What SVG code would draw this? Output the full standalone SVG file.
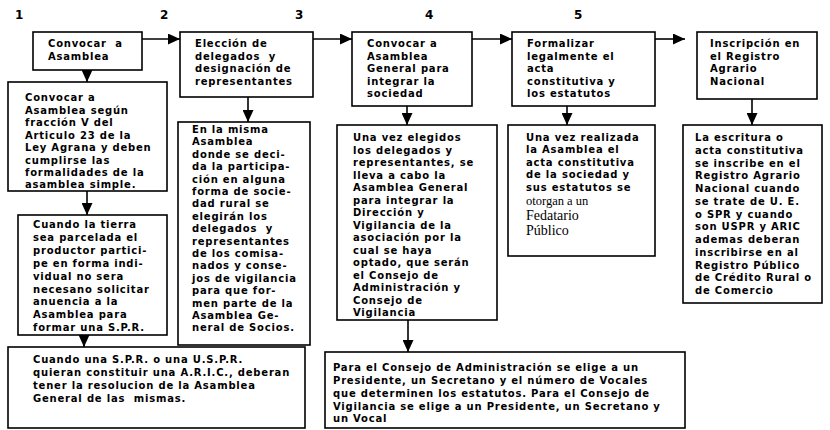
<svg xmlns="http://www.w3.org/2000/svg" width="830" height="430" viewBox="0 0 830 430">
<defs>
<marker id="ah" markerUnits="userSpaceOnUse" markerWidth="13" markerHeight="11" refX="12" refY="5.5" orient="auto">
<path d="M0,0 L12,5.5 L0,11 z" fill="#000"/>
</marker>
<style>
.box{fill:#fff;stroke:#000;stroke-width:1.6}
.t{font-family:"DejaVu Sans","Liberation Sans",sans-serif;font-weight:bold;font-size:10px;letter-spacing:0.8px;fill:#000;white-space:pre}
.s{font-family:"Liberation Serif","DejaVu Serif",serif;font-size:12.5px;fill:#000}
.sb{font-family:"Liberation Serif","DejaVu Serif",serif;font-size:14px;fill:#000}
.num{font-family:"DejaVu Sans","Liberation Sans",sans-serif;font-weight:bold;font-size:12px;fill:#000}
.c{fill:none;stroke:#000;stroke-width:1.6;marker-end:url(#ah)}
</style>
</defs>
<rect width="830" height="430" fill="#fff"/>
<g id="numbers">
<text class="num" x="15" y="19">1</text>
<text class="num" x="160" y="19">2</text>
<text class="num" x="295" y="19">3</text>
<text class="num" x="425" y="19">4</text>
<text class="num" x="574" y="19">5</text>
</g>
<g id="connectors">
<line class="c" x1="142" y1="39" x2="180" y2="39"/>
<line class="c" x1="313" y1="39" x2="352" y2="39"/>
<line class="c" x1="472" y1="39" x2="512" y2="39"/>
<line class="c" x1="655" y1="39" x2="685" y2="39"/>
<line class="c" x1="87" y1="70" x2="87" y2="82"/>
<line class="c" x1="248" y1="97" x2="248" y2="122"/>
<line class="c" x1="407" y1="106" x2="407" y2="125"/>
<line class="c" x1="567" y1="106" x2="567" y2="125"/>
<line class="c" x1="752" y1="99" x2="752" y2="125"/>
<line class="c" x1="87" y1="191" x2="87" y2="215"/>
<line class="c" x1="84" y1="335" x2="84" y2="347"/>
<line class="c" x1="408" y1="320" x2="408" y2="352"/>
</g>
<g id="n1">
<rect class="box" x="33" y="32" width="109" height="38"/>
<text class="t" x="48" y="47">Convocar  a</text>
<text class="t" x="48" y="60">Asamblea</text>
</g>
<g id="n2">
<rect class="box" x="180" y="32" width="133" height="65"/>
<text class="t" x="195" y="47">Elección de</text>
<text class="t" x="195" y="59.5">delegados  y</text>
<text class="t" x="195" y="72">designación de</text>
<text class="t" x="195" y="84.5">representantes</text>
</g>
<g id="n3">
<rect class="box" x="352" y="32" width="120" height="74"/>
<text class="t" x="367" y="47">Convocar a</text>
<text class="t" x="367" y="59.5">Asamblea</text>
<text class="t" x="367" y="72">General para</text>
<text class="t" x="367" y="84.5">integrar la</text>
<text class="t" x="367" y="97">sociedad</text>
</g>
<g id="n4">
<rect class="box" x="512" y="32" width="143" height="74"/>
<text class="t" x="527" y="47">Formalizar</text>
<text class="t" x="527" y="59.5">legalmente el</text>
<text class="t" x="527" y="72">acta</text>
<text class="t" x="527" y="84.5">constitutiva y</text>
<text class="t" x="527" y="97">los estatutos</text>
</g>
<g id="n5">
<rect class="box" x="697" y="32" width="120" height="67"/>
<text class="t" x="710" y="47">Inscripción en</text>
<text class="t" x="710" y="59.5">el Registro</text>
<text class="t" x="710" y="72">Agrario</text>
<text class="t" x="710" y="84.5">Nacional</text>
</g>
<g id="nA">
<rect class="box" x="8" y="82" width="159" height="109"/>
<text class="t" x="25" y="101">Convocar a</text>
<text class="t" x="25" y="113.5">Asamblea según</text>
<text class="t" x="25" y="126">fracción V del</text>
<text class="t" x="25" y="138.5">Articulo 23 de la</text>
<text class="t" x="25" y="151">Ley Agrana y deben</text>
<text class="t" x="25" y="163.5">cumplirse las</text>
<text class="t" x="25" y="176">formalidades de la</text>
<text class="t" x="25" y="188">asamblea simple.</text>
</g>
<g id="nB">
<rect class="box" x="18" y="215" width="149" height="120"/>
<text class="t" x="33" y="228">Cuando la tierra</text>
<text class="t" x="33" y="241">sea parcelada el</text>
<text class="t" x="33" y="254">productor partici-</text>
<text class="t" x="33" y="266.5">pe en forma indi-</text>
<text class="t" x="33" y="279.5">vidual no sera</text>
<text class="t" x="33" y="292.5">necesano solicitar</text>
<text class="t" x="33" y="305">anuencia a la</text>
<text class="t" x="33" y="318">Asamblea para</text>
<text class="t" x="33" y="331">formar una S.P.R.</text>
</g>
<g id="nC">
<rect class="box" x="8" y="347" width="297" height="81"/>
<text class="t" x="33" y="363">Cuando una S.P.R. o una U.S.P.R.</text>
<text class="t" x="33" y="376">quieran constituir una A.R.I.C., deberan</text>
<text class="t" x="33" y="389">tener la resolucion de la Asamblea</text>
<text class="t" x="33" y="402">General de las  mismas.</text>
</g>
<g id="nD">
<rect class="box" x="178" y="122" width="132" height="223"/>
<text class="t" x="192" y="133">En la misma</text>
<text class="t" x="192" y="145.4">Asamblea</text>
<text class="t" x="192" y="157.8">donde se deci-</text>
<text class="t" x="192" y="170.2">da la participa-</text>
<text class="t" x="192" y="182.6">ción en alguna</text>
<text class="t" x="192" y="195">forma de socie-</text>
<text class="t" x="192" y="207.4">dad rural se</text>
<text class="t" x="192" y="219.8">elegirán los</text>
<text class="t" x="192" y="232.2">delegados  y</text>
<text class="t" x="192" y="244.6">representantes</text>
<text class="t" x="192" y="257">de los comisa-</text>
<text class="t" x="192" y="269.4">nados y conse-</text>
<text class="t" x="192" y="281.8">jos de vigilancia</text>
<text class="t" x="192" y="294.2">para que for-</text>
<text class="t" x="192" y="306.6">men parte de la</text>
<text class="t" x="192" y="319">Asamblea Ge-</text>
<text class="t" x="192" y="331.4">neral de Socios.</text>
</g>
<g id="nE">
<rect class="box" x="337" y="125" width="160" height="195"/>
<text class="t" x="353" y="141">Una vez elegidos</text>
<text class="t" x="353" y="153.5">los delegados y</text>
<text class="t" x="353" y="166">representantes, se</text>
<text class="t" x="353" y="178.5">lleva a cabo la</text>
<text class="t" x="353" y="191">Asamblea General</text>
<text class="t" x="353" y="203.5">para integrar la</text>
<text class="t" x="353" y="216">Dirección y</text>
<text class="t" x="353" y="228.5">Vigilancia de la</text>
<text class="t" x="353" y="241">asociación por la</text>
<text class="t" x="353" y="253.5">cual se haya</text>
<text class="t" x="353" y="266">optado, que serán</text>
<text class="t" x="353" y="278.5">el Consejo de</text>
<text class="t" x="353" y="291">Administración y</text>
<text class="t" x="353" y="303.5">Consejo de</text>
<text class="t" x="353" y="316">Vigilancia</text>
</g>
<g id="nF">
<rect class="box" x="508" y="125" width="147" height="131"/>
<text class="t" x="526" y="140.5">Una vez realizada</text>
<text class="t" x="526" y="153">la Asamblea el</text>
<text class="t" x="526" y="165.5">acta constitutiva</text>
<text class="t" x="526" y="178">de la sociedad y</text>
<text class="t" x="526" y="190.5">sus estatutos se</text>
<text class="s" x="526" y="204.5">otorgan a un</text>
<text class="sb" x="526" y="219.5">Fedatario</text>
<text class="sb" x="526" y="235">Público</text>
</g>
<g id="nG">
<rect class="box" x="683" y="125" width="139" height="178"/>
<text class="t" x="695" y="141">La escritura o</text>
<text class="t" x="695" y="153.75">acta constitutiva</text>
<text class="t" x="695" y="166.5">se inscribe en el</text>
<text class="t" x="695" y="179.25">Registro Agrario</text>
<text class="t" x="695" y="192">Nacional cuando</text>
<text class="t" x="695" y="204.75">se trate de U. E.</text>
<text class="t" x="695" y="217.5">o SPR y cuando</text>
<text class="t" x="695" y="230.25">son USPR y ARIC</text>
<text class="t" x="695" y="243">ademas deberan</text>
<text class="t" x="695" y="255.75">inscribirse en al</text>
<text class="t" x="695" y="268.5">Registro Público</text>
<text class="t" x="695" y="281.25">de Crédito Rural o</text>
<text class="t" x="695" y="294">de Comercio</text>
</g>
<g id="nH">
<rect class="box" x="325" y="352" width="360" height="76"/>
<text class="t" x="333" y="371">Para el Consejo de Administración se elige a un</text>
<text class="t" x="333" y="384">Presidente, un Secretano y el número de Vocales</text>
<text class="t" x="333" y="397">que determinen los estatutos. Para el Consejo de</text>
<text class="t" x="333" y="410">Vigilancia se elige a un Presidente, un Secretano y</text>
<text class="t" x="333" y="422">un Vocal</text>
</g>
</svg>
